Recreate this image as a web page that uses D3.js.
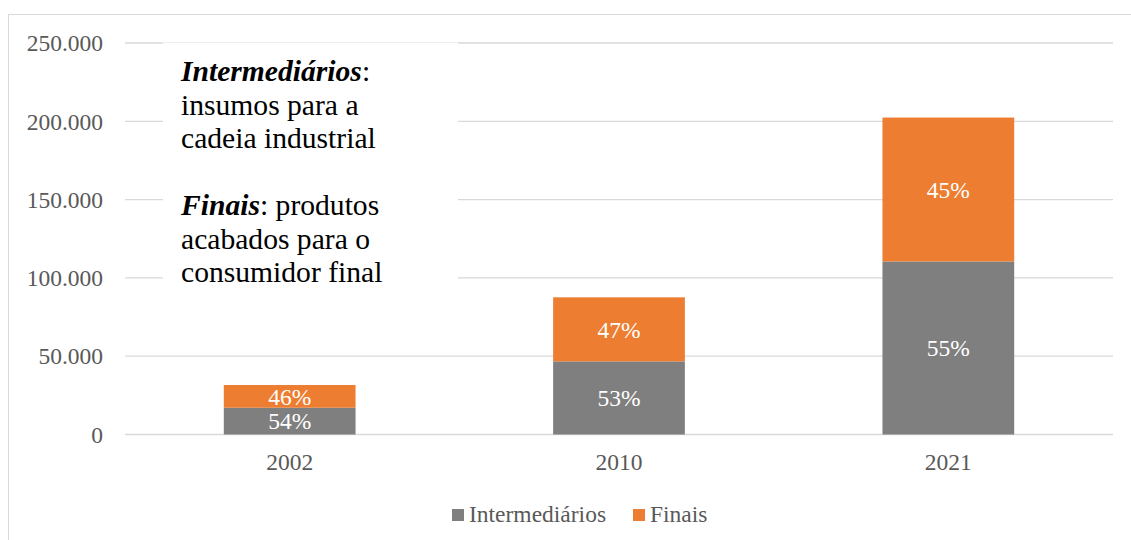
<!DOCTYPE html>
<html>
<head>
<meta charset="utf-8">
<script src="https://cdn.jsdelivr.net/npm/d3@7"></script>
<style>
  body { margin: 0; background: #fff; }
  svg, svg text, svg tspan { font-family: "Liberation Serif", Tinos, "Times New Roman", "DejaVu Serif", serif; }
</style>
</head>
<body>
<script>
const width = 1131,
    height = 540;

// data
const years = ["2002", "2010", "2021"];
const intermediarios = [17100, 46700, 110500];
const finais = [14500, 40900, 91900];
const pctInter = ["54%", "53%", "55%"];
const pctFinais = ["46%", "47%", "45%"];
const yTicks = [0, 50000, 100000, 150000, 200000, 250000];
const seriesNames = ["Intermediários", "Finais"];
const colors = ["#7f7f7f", "#ed7d31"];

const serif = "'Liberation Serif', Tinos, 'Times New Roman', 'DejaVu Serif', serif";

const rows = years.map((y, i) => ({
  year: y, inter: intermediarios[i], finais: finais[i],
  pInter: pctInter[i], pFinais: pctFinais[i]
}));

const svg = d3.select("body").append("svg")
    .attr("width", width)
    .attr("height", height)
    .attr("font-family", serif);

// outer chart border
svg.append("rect")
    .attr("x", 8.5).attr("y", 14.5)
    .attr("width", 1140).attr("height", 540)
    .attr("fill", "none")
    .attr("stroke", "#d9d9d9");

const x = d3.scaleBand()
    .domain(years)
    .range([125, 1113])
    .paddingInner(0.6)
    .paddingOuter(0.3);

const y = d3.scaleLinear()
    .domain([0, 250000])
    .range([434.5, 43]);

const fmt = v => d3.format(",")(v).replace(/,/g, ".");

// gridlines
svg.append("g").selectAll("line")
    .data(yTicks)
    .enter().append("line")
    .attr("x1", 125).attr("x2", 1113)
    .attr("y1", d => y(d)).attr("y2", d => y(d))
    .attr("stroke", "#d9d9d9")
    .attr("stroke-width", 1.3);

// y tick labels
svg.append("g").selectAll("text")
    .data(yTicks)
    .enter().append("text")
    .attr("x", 103)
    .attr("y", d => y(d))
    .attr("dy", "0.35em")
    .attr("text-anchor", "end")
    .attr("fill", "#595959")
    .style("font-size", "23.5px")
    .text(fmt);

// stacked bars
const stack = d3.stack().keys(["inter", "finais"]);
const layers = stack(rows);

const bars = svg.append("g").selectAll("g")
    .data(layers)
    .enter().append("g")
    .attr("fill", (d, i) => colors[i]);

bars.selectAll("rect")
    .data(d => d)
    .enter().append("rect")
    .attr("x", d => x(d.data.year))
    .attr("width", x.bandwidth())
    .attr("y", d => y(d[1]))
    .attr("height", d => y(d[0]) - y(d[1]));

// data labels
layers.forEach((layer, li) => {
  svg.append("g").selectAll("text")
      .data(layer)
      .enter().append("text")
      .attr("x", d => x(d.data.year) + x.bandwidth() / 2)
      .attr("y", d => (y(d[0]) + y(d[1])) / 2)
      .attr("dy", "0.35em")
      .attr("text-anchor", "middle")
      .attr("fill", "#fff")
      .style("font-size", "23.5px")
      .text(d => li === 0 ? d.data.pInter : d.data.pFinais);
});

// x labels
svg.append("g").selectAll("text")
    .data(years)
    .enter().append("text")
    .attr("x", d => x(d) + x.bandwidth() / 2)
    .attr("y", 470)
    .attr("text-anchor", "middle")
    .attr("fill", "#595959")
    .style("font-size", "23.5px")
    .text(d => d);

// text box over the gridlines
svg.append("rect")
    .attr("x", 163).attr("y", 42)
    .attr("width", 295).attr("height", 252)
    .attr("fill", "#fff");
svg.append("line")
    .attr("x1", 163).attr("x2", 458)
    .attr("y1", 42.5).attr("y2", 42.5)
    .attr("stroke", "#eeeeee");

const note = svg.append("text")
    .attr("x", 181)
    .attr("fill", "#000")
    .style("font-size", "29.6px");

const noteLines = [
  [{t: "Intermediários", b: true}, {t: ":"}],
  [{t: "insumos para a"}],
  [{t: "cadeia industrial"}],
  [],
  [{t: "Finais", b: true}, {t: ": produtos"}],
  [{t: "acabados para o"}],
  [{t: "consumidor final"}]
];
noteLines.forEach((parts, i) => {
  parts.forEach((p, j) => {
    const ts = note.append("tspan").text(p.t);
    if (j === 0) ts.attr("x", 181).attr("y", 81 + i * 33.5);
    if (p.b) ts.style("font-weight", "bold").style("font-style", "italic");
  });
});

// legend
const legend = svg.append("g");
const legX = [452, 633];
seriesNames.forEach((name, i) => {
  legend.append("rect")
      .attr("x", legX[i]).attr("y", 509)
      .attr("width", 12).attr("height", 12)
      .attr("fill", colors[i]);
  legend.append("text")
      .attr("x", legX[i] + 17).attr("y", 521.5)
      .attr("fill", "#595959")
      .style("font-size", "23.5px")
      .text(name);
});
</script>
</body>
</html>
